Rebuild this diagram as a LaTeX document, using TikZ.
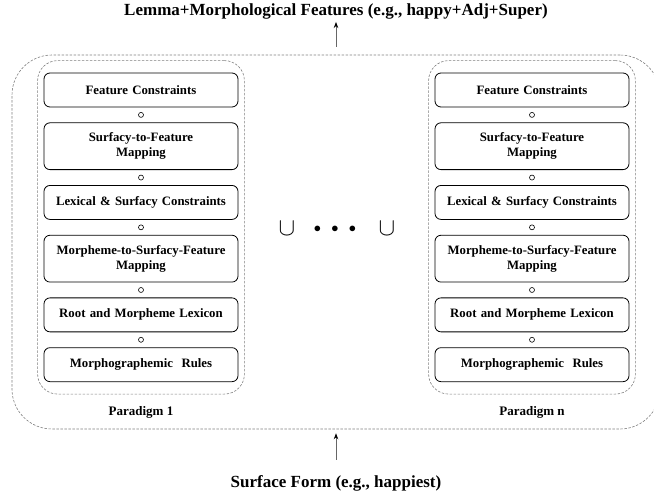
\documentclass[tikz,border=0pt]{standalone}
\usepackage{fontspec}
\setmainfont{Liberation Serif}
\usetikzlibrary{positioning,fit,calc,arrows.meta}

\tikzset{
  stage/.style={draw, rounded corners=6pt, line width=0.8pt, minimum width=194pt, minimum height=34pt,
    text width=190pt, inner xsep=2pt, inner ysep=10pt, align=center, font=\fontsize{12.8}{15}\selectfont\bfseries},
  compose/.style={draw, circle, inner sep=0pt, minimum size=5pt, line width=0.6pt},
  grouping/.style={draw=gray, dash pattern=on 2.5pt off 1.5pt, line width=0.6pt},
  paradigm/.style={grouping, rounded corners=20pt, inner xsep=6pt, inner ysep=12pt},
  outer/.style={grouping, rounded corners=40pt, minimum width=648pt, minimum height=374pt},
  caption/.style={font=\fontsize{13}{15}\selectfont\bfseries},
  heading/.style={font=\fontsize{17}{20}\selectfont\bfseries, inner sep=3pt},
  joinsym/.style={font=\fontsize{24}{24}\selectfont},
  flow/.style={draw=gray!80!black, line width=0.8pt, -{Stealth[black,length=6pt,width=4.5pt]}}
}

\begin{document}
\begin{tikzpicture}[x=1pt,y=-1pt,node distance=15pt]
\useasboundingbox (0,0) rectangle (654,493);

\node[heading] (lemma) at (336,11) {Lemma+Morphological Features (e.g., happy+Adj+Super)};
\node[heading] (form) at (336,483) {Surface Form (e.g., happiest)};
\node[outer] (all) at (336,242) {};

\foreach \c/\x/\n in {l/141/1,r/532/n}{
  \node[stage] (\c1) at (\x,90) {Feature Constraints};
  \node[stage, below=of \c1] (\c2) {Surfacy-to-Feature\\Mapping};
  \node[stage, below=of \c2] (\c3) {Lexical \& Surfacy Constraints};
  \node[stage, below=of \c3] (\c4) {Morpheme-to-Surfacy-Feature\\Mapping};
  \node[stage, below=of \c4] (\c5) {Root and Morpheme Lexicon};
  \node[stage, below=of \c5] (\c6) {Morphographemic~ Rules};
  \foreach \i/\j in {1/2,2/3,3/4,4/5,5/6}
    \node[compose] (\c o\i) at ($(\c\i.south)!.5!(\c\j.north)$) {};
  \node[paradigm, fit=(\c1)(\c6)] (\c box) {};
  \node[caption] (\c name) at (\x,412) {Paradigm \n};
}

\node[joinsym] (cup1) at (287,229) {$\cup$};
\node[font=\fontsize{14}{14}\selectfont] (dots) at (335,229) {$\bullet\mkern9mu\bullet\mkern9mu\bullet$};
\node[joinsym] (cup2) at (387,229) {$\cup$};

\draw[flow, shorten <=8pt] (all.north) -- (lemma.south);
\draw[flow, shorten <=12pt, shorten >=4pt] (form.north) -- (all.south);
\end{tikzpicture}
\end{document}
